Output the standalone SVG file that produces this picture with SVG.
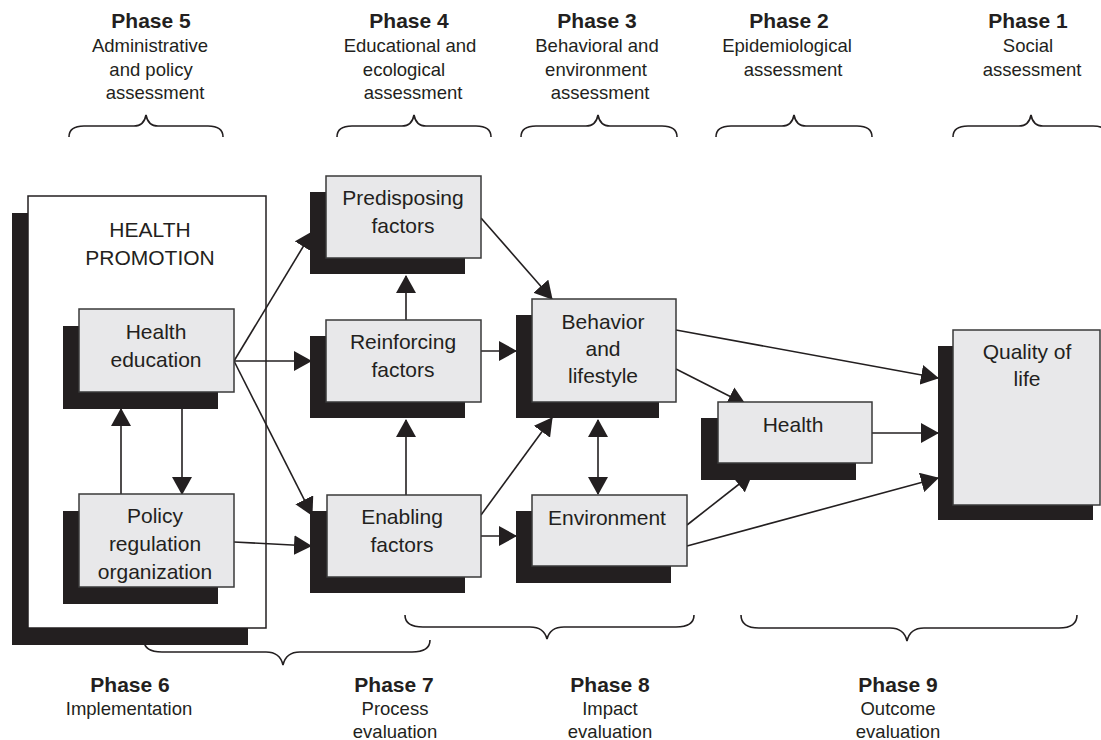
<svg xmlns="http://www.w3.org/2000/svg" width="1101" height="740" viewBox="0 0 1101 740">
<style>
text{font-family:"Liberation Sans",Arial,sans-serif;fill:#231f20;text-anchor:middle}
.ph{font-size:21px;font-weight:bold}
.sub{font-size:18.5px}
.nt{font-size:21px}
.box{fill:#e8e8ea;stroke:#3a3a3a;stroke-width:1.5}
.sh{fill:#231f20}
.brace{fill:none;stroke:#231f20;stroke-width:1.6}
.cn{fill:none;stroke:#231f20;stroke-width:1.6}
</style>
<defs>
<marker id="ah" viewBox="0 0 18 20" refX="17" refY="10" markerWidth="18" markerHeight="20" markerUnits="userSpaceOnUse" orient="auto-start-reverse">
<path d="M0,0 L18,10 L0,20 z" fill="#231f20"/>
</marker>
</defs>

<g id="phase-labels">
<text class="ph" x="151" y="28">Phase 5</text>
<text class="sub" x="150" y="52">Administrative</text>
<text class="sub" x="151" y="76">and policy</text>
<text class="sub" x="155" y="99">assessment</text>

<text class="ph" x="409" y="28">Phase 4</text>
<text class="sub" x="410" y="52">Educational and</text>
<text class="sub" x="404" y="76">ecological</text>
<text class="sub" x="413" y="99">assessment</text>

<text class="ph" x="597" y="28">Phase 3</text>
<text class="sub" x="597" y="52">Behavioral and</text>
<text class="sub" x="596" y="76">environment</text>
<text class="sub" x="600" y="99">assessment</text>

<text class="ph" x="789" y="28">Phase 2</text>
<text class="sub" x="787" y="52">Epidemiological</text>
<text class="sub" x="793" y="76">assessment</text>

<text class="ph" x="1028" y="28">Phase 1</text>
<text class="sub" x="1028" y="52">Social</text>
<text class="sub" x="1032" y="76">assessment</text>

<text class="ph" x="130" y="692">Phase 6</text>
<text class="sub" x="129" y="715">Implementation</text>

<text class="ph" x="394" y="692">Phase 7</text>
<text class="sub" x="395" y="715">Process</text>
<text class="sub" x="395" y="738">evaluation</text>

<text class="ph" x="610" y="692">Phase 8</text>
<text class="sub" x="610" y="715">Impact</text>
<text class="sub" x="610" y="738">evaluation</text>

<text class="ph" x="898" y="692">Phase 9</text>
<text class="sub" x="898" y="715">Outcome</text>
<text class="sub" x="898" y="738">evaluation</text>
</g>

<g id="braces">
<path class="brace" d="M69,137 Q69,126 84,126 L134,126 Q144,126 146,115 Q148,126 158,126 L208,126 Q223,126 223,137"/>
<path class="brace" d="M337,137 Q337,126 352,126 L402,126 Q412,126 414,115 Q416,126 426,126 L476,126 Q491,126 491,137"/>
<path class="brace" d="M521,137 Q521,126 536,126 L586,126 Q596,126 598,115 Q600,126 610,126 L662,126 Q677,126 677,137"/>
<path class="brace" d="M716,137 Q716,126 731,126 L782,126 Q792,126 794,115 Q796,126 806,126 L857,126 Q872,126 872,137"/>
<path class="brace" d="M953,137 Q953,126 968,126 L1019,126 Q1029,126 1031,115 Q1033,126 1043,126 L1093,126 Q1108,126 1108,137"/>

<path class="brace" d="M144,640 Q144,652 162,652 L266,652 Q280,652 283,665 Q286,652 300,652 L412,652 Q430,652 430,640"/>
<path class="brace" d="M405,615 Q405,627 423,627 L530,627 Q544,627 547,639 Q550,627 564,627 L676,627 Q694,627 694,615"/>
<path class="brace" d="M741,615 Q741,628 759,628 L890,628 Q904,628 907,641 Q910,628 924,628 L1059,628 Q1077,628 1077,615"/>
</g>

<g id="health-promotion">
<rect class="sh" x="12" y="213" width="236" height="432"/>
<rect x="28" y="196" width="238" height="432" fill="#ffffff" stroke="#231f20" stroke-width="1.5"/>
<text class="nt" x="150" y="237">HEALTH</text>
<text class="nt" x="150" y="265">PROMOTION</text>
</g>

<g id="connectors">
<line class="cn" x1="234" y1="361" x2="312" y2="232" marker-end="url(#ah)"/>
<line class="cn" x1="234" y1="361" x2="311" y2="361" marker-end="url(#ah)"/>
<line class="cn" x1="234" y1="361" x2="312" y2="515" marker-end="url(#ah)"/>
<line class="cn" x1="234" y1="542" x2="311" y2="546" marker-end="url(#ah)"/>
<line class="cn" x1="121" y1="494" x2="121" y2="409" marker-end="url(#ah)"/>
<line class="cn" x1="182" y1="409" x2="182" y2="494" marker-end="url(#ah)"/>
<line class="cn" x1="406" y1="322" x2="406" y2="276" marker-end="url(#ah)"/>
<line class="cn" x1="406" y1="495" x2="406" y2="420" marker-end="url(#ah)"/>
<line class="cn" x1="481" y1="218" x2="552" y2="299" marker-end="url(#ah)"/>
<line class="cn" x1="481" y1="351" x2="516" y2="351" marker-end="url(#ah)"/>
<line class="cn" x1="481" y1="515" x2="552" y2="418" marker-end="url(#ah)"/>
<line class="cn" x1="481" y1="536" x2="516" y2="536" marker-end="url(#ah)"/>
<line class="cn" x1="598" y1="420" x2="598" y2="494" marker-start="url(#ah)" marker-end="url(#ah)"/>
<line class="cn" x1="676" y1="330" x2="938" y2="378" marker-end="url(#ah)"/>
<line class="cn" x1="676" y1="369" x2="745" y2="404" marker-end="url(#ah)"/>
<line class="cn" x1="687" y1="525" x2="752" y2="474" marker-end="url(#ah)"/>
<line class="cn" x1="872" y1="433" x2="938" y2="433" marker-end="url(#ah)"/>
<line class="cn" x1="687" y1="546" x2="938" y2="478" marker-end="url(#ah)"/>
</g>

<g id="health-education">
<rect class="sh" x="63" y="326" width="155" height="83"/>
<rect class="box" x="79" y="309" width="155" height="83"/>
<text class="nt" x="156" y="339">Health</text>
<text class="nt" x="156" y="367">education</text>
</g>

<g id="policy">
<rect class="sh" x="63" y="511" width="155" height="93"/>
<rect class="box" x="79" y="494" width="155" height="93"/>
<text class="nt" x="155" y="523">Policy</text>
<text class="nt" x="155" y="551">regulation</text>
<text class="nt" x="155" y="579">organization</text>
</g>

<g id="predisposing">
<rect class="sh" x="310" y="192" width="155" height="82"/>
<rect class="box" x="326" y="176" width="155" height="82"/>
<text class="nt" x="403" y="205">Predisposing</text>
<text class="nt" x="403" y="233">factors</text>
</g>

<g id="reinforcing">
<rect class="sh" x="310" y="336" width="155" height="82"/>
<rect class="box" x="326" y="320" width="155" height="82"/>
<text class="nt" x="403" y="349">Reinforcing</text>
<text class="nt" x="403" y="377">factors</text>
</g>

<g id="enabling">
<rect class="sh" x="310" y="511" width="155" height="82"/>
<rect class="box" x="327" y="495" width="154" height="82"/>
<text class="nt" x="402" y="524">Enabling</text>
<text class="nt" x="402" y="552">factors</text>
</g>

<g id="behavior">
<rect class="sh" x="516" y="315" width="143" height="103"/>
<rect class="box" x="532" y="299" width="144" height="103"/>
<text class="nt" x="603" y="329">Behavior</text>
<text class="nt" x="603" y="356">and</text>
<text class="nt" x="603" y="383">lifestyle</text>
</g>

<g id="environment">
<rect class="sh" x="516" y="511" width="155" height="72"/>
<rect class="box" x="532" y="495" width="155" height="71"/>
<text class="nt" x="607" y="525">Environment</text>
</g>

<g id="health">
<rect class="sh" x="701" y="418" width="155" height="62"/>
<rect class="box" x="718" y="402" width="154" height="61"/>
<text class="nt" x="793" y="432">Health</text>
</g>

<g id="quality">
<rect class="sh" x="938" y="346" width="155" height="174"/>
<rect class="box" x="953" y="330" width="147" height="175"/>
<text class="nt" x="1027" y="359">Quality of</text>
<text class="nt" x="1027" y="386">life</text>
</g>
</svg>
